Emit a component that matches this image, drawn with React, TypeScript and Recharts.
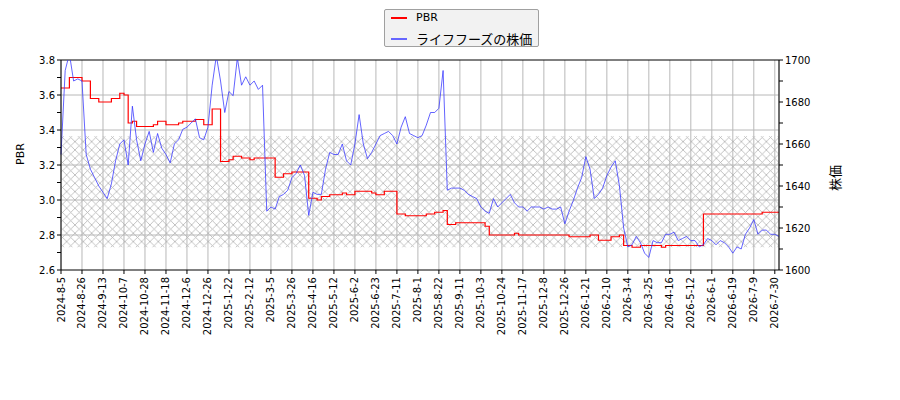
import {
  LineChart,
  Line,
  XAxis,
  YAxis,
  CartesianGrid,
  ReferenceArea,
  ReferenceLine,
} from "recharts";

// tick dates on the x axis, one every 5 samples
const tickLabels = [
  "2024-8-5", "2024-8-26", "2024-9-13", "2024-10-7", "2024-10-28", "2024-11-18",
  "2024-12-6", "2024-12-26", "2025-1-22", "2025-2-12", "2025-3-5", "2025-3-26",
  "2025-4-16", "2025-5-12", "2025-6-2", "2025-6-23", "2025-7-11", "2025-8-1",
  "2025-8-22", "2025-9-11", "2025-10-3", "2025-10-24", "2025-11-17", "2025-12-8",
  "2025-12-26", "2026-1-21", "2026-2-10", "2026-3-4", "2026-3-25", "2026-4-16",
  "2026-5-12", "2026-6-1", "2026-6-19", "2026-7-9", "2026-7-30",
];

// share price (right axis)
const price = [
  1655, 1695, 1703, 1690, 1691, 1690, 1655, 1648, 1644, 1640,
  1637, 1634, 1641, 1652, 1660, 1662, 1650, 1678, 1662, 1652,
  1660, 1666, 1656, 1665, 1658, 1655, 1651, 1660, 1662, 1667,
  1668, 1670, 1672, 1663, 1662, 1668, 1688, 1702, 1690, 1675,
  1685, 1683, 1701, 1688, 1692, 1688, 1690, 1686, 1688, 1628,
  1630, 1629, 1635, 1636, 1638, 1644, 1646, 1650, 1645, 1626,
  1637, 1636, 1636, 1648, 1656, 1655, 1655, 1660, 1652, 1650,
  1660, 1674, 1660, 1653, 1656, 1660, 1664, 1665, 1666, 1664,
  1660, 1668, 1673, 1665, 1664, 1663, 1664, 1669, 1675, 1675,
  1677, 1695, 1638, 1639, 1639, 1639, 1638, 1636, 1635, 1634,
  1630, 1628, 1627, 1634, 1630, 1632, 1634, 1636, 1632, 1630,
  1630, 1628, 1630, 1630, 1630, 1629, 1630, 1629, 1629, 1630,
  1622, 1628, 1633, 1639, 1644, 1654, 1648, 1634, 1636, 1639,
  1645, 1649, 1652, 1640, 1620, 1611, 1612, 1616, 1613, 1608,
  1606, 1614, 1613, 1613, 1617, 1617, 1618, 1614, 1615, 1616,
  1614, 1614, 1611, 1612, 1615, 1614, 1612, 1614, 1613, 1611,
  1608, 1611, 1610, 1617, 1620, 1624, 1617, 1619, 1619, 1617,
  1617, 1616,
];

// PBR (left axis)
const pbr = [
  3.64, 3.64, 3.70, 3.70, 3.70, 3.68, 3.68, 3.58, 3.58, 3.56,
  3.56, 3.56, 3.58, 3.58, 3.61, 3.60, 3.44, 3.45, 3.42, 3.42,
  3.42, 3.42, 3.43, 3.45, 3.45, 3.43, 3.43, 3.43, 3.44, 3.45,
  3.45, 3.45, 3.46, 3.46, 3.43, 3.43, 3.52, 3.52, 3.22, 3.22,
  3.23, 3.25, 3.25, 3.24, 3.24, 3.23, 3.24, 3.24, 3.24, 3.24,
  3.24, 3.13, 3.13, 3.15, 3.15, 3.16, 3.16, 3.16, 3.16, 3.01,
  3.01, 3.00, 3.02, 3.02, 3.03, 3.03, 3.03, 3.04, 3.03, 3.03,
  3.05, 3.05, 3.05, 3.05, 3.04, 3.03, 3.03, 3.05, 3.05, 3.05,
  2.92, 2.92, 2.91, 2.91, 2.91, 2.91, 2.91, 2.92, 2.92, 2.93,
  2.93, 2.94, 2.86, 2.86, 2.87, 2.87, 2.87, 2.87, 2.87, 2.87,
  2.87, 2.85, 2.80, 2.80, 2.80, 2.80, 2.80, 2.80, 2.81, 2.80,
  2.80, 2.80, 2.80, 2.80, 2.80, 2.80, 2.80, 2.80, 2.80, 2.80,
  2.80, 2.79, 2.79, 2.79, 2.79, 2.79, 2.80, 2.80, 2.77, 2.77,
  2.77, 2.79, 2.79, 2.80, 2.74, 2.74, 2.73, 2.73, 2.74, 2.74,
  2.74, 2.74, 2.74, 2.73, 2.74, 2.74, 2.74, 2.74, 2.74, 2.74,
  2.74, 2.74, 2.74, 2.92, 2.92, 2.92, 2.92, 2.92, 2.92, 2.92,
  2.92, 2.92, 2.92, 2.92, 2.92, 2.92, 2.92, 2.93, 2.93, 2.93,
  2.93, 2.93,
];

const pbrTicks = [2.6, 2.7, 2.8, 2.9, 3.0, 3.1, 3.2, 3.3, 3.4, 3.5, 3.6, 3.7, 3.8];
const pbrGrid = [2.8, 3.0, 3.2, 3.4, 3.6];
const priceTicks = [1600, 1610, 1620, 1630, 1640, 1650, 1660, 1670, 1680, 1690, 1700];

const data = price.map((p, i) => ({ i, price: p, pbr: pbr[i] }));
const xTicks = tickLabels.map((_, k) => k * 5);

const XTick = ({ x, y, payload }: any) => {
  const label = tickLabels[Math.round(payload.value / 5)];
  return (
    <text
      x={x}
      y={y}
      transform={`rotate(-90 ${x} ${y})`}
      textAnchor="end"
      dominantBaseline="central"
      fontSize={10}
      fontFamily="DejaVu Sans"
      fill="#000"
    >
      {label}
    </text>
  );
};

const App = () => {
  return (
    <div style={{ position: "absolute", left: 0, top: 0, width: 900, height: 400, fontFamily: "DejaVu Sans", background: "#fff" }}>
      <LineChart width={900} height={400} data={data} margin={{ top: 60, right: 61, bottom: 60, left: 0 }}>
        <defs>
          <pattern id="hatch" patternUnits="userSpaceOnUse" width={8.33} height={8.33}>
            <path d="M0,0 L8.33,8.33 M8.33,0 L0,8.33" stroke="#b4b4b4" strokeWidth={0.8} />
          </pattern>
        </defs>
        <CartesianGrid stroke="#b8b8b8" yAxisId="left" horizontalValues={pbrGrid} />
        <ReferenceArea yAxisId="left" y1={2.73} y2={3.365} fill="url(#hatch)" fillOpacity={1} stroke="none" />
        <XAxis
          type="number"
          dataKey="i"
          domain={[0, 171]}
          ticks={xTicks}
          interval={0}
          tick={<XTick />}
          tickSize={4}
          tickMargin={3}
          height={70}
          stroke="#000"
        />
        <YAxis
          yAxisId="left"
          domain={[2.6, 3.8]}
          ticks={pbrTicks}
          interval={0}
          tickFormatter={(v: number) => (Math.round(v * 10) % 2 === 0 ? v.toFixed(1) : "")}
          tick={{ fontSize: 10, fill: "#000" }}
          tickSize={4}
          width={61}
          stroke="#000"
          allowDataOverflow
          label={{ value: "PBR", angle: -90, position: "insideLeft", offset: 20, fontSize: 11, fill: "#000" }}
        />
        <YAxis
          yAxisId="right"
          orientation="right"
          domain={[1600, 1700]}
          ticks={priceTicks}
          interval={0}
          tickFormatter={(v: number) => (v % 20 === 0 ? String(v) : "")}
          tick={{ fontSize: 10, fill: "#000" }}
          tickSize={4}
          width={60}
          stroke="#000"
          allowDataOverflow
          label={{ value: "株価", angle: -90, position: "insideRight", offset: 4, fontSize: 13, fill: "#000", fontFamily: "Noto Sans CJK JP" }}
        />
        <ReferenceLine yAxisId="left" y={3.8} stroke="#000" />
        <Line
          yAxisId="left"
          type="stepAfter"
          dataKey="pbr"
          stroke="red"
          strokeWidth={1.2}
          dot={false}
          isAnimationActive={false}
        />
        <Line
          yAxisId="right"
          type="linear"
          dataKey="price"
          stroke="#3333ff"
          strokeOpacity={0.85}
          strokeWidth={0.9}
          dot={false}
          isAnimationActive={false}
        />
      </LineChart>
      <div
        style={{
          position: "absolute",
          left: 384,
          top: 9,
          width: 155,
          height: 38,
          border: "1px solid #a0a0a0",
          borderRadius: 2,
          background: "#f2f2f2",
          boxSizing: "border-box",
        }}
      >
        <div style={{ position: "absolute", left: 6, top: 7, width: 16, height: 2, background: "red" }} />
        <span style={{ position: "absolute", left: 31, top: 1, fontSize: 11, lineHeight: "14px" }}>PBR</span>
        <div style={{ position: "absolute", left: 6, top: 28, width: 16, height: 2, background: "#6666ff" }} />
        <span style={{ position: "absolute", left: 31, top: 21, fontSize: 13, lineHeight: "16px", fontFamily: "Noto Sans CJK JP" }}>
          ライフフーズの株価
        </span>
      </div>
    </div>
  );
};

export default App;
